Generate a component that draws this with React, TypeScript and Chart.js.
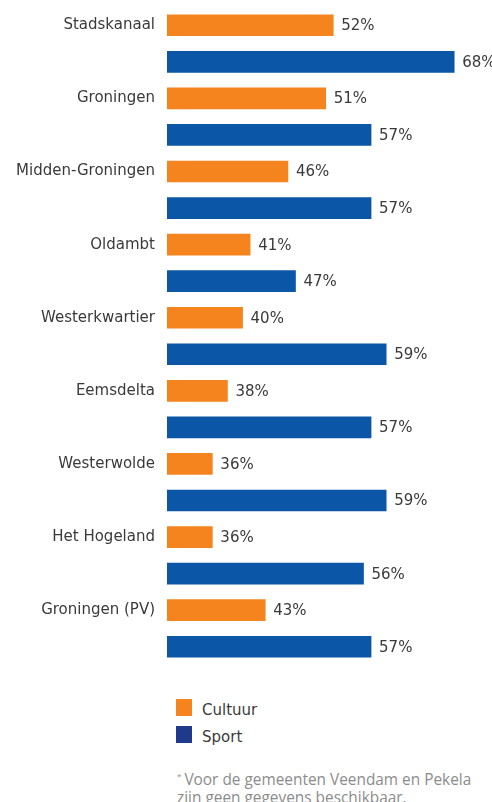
import React, { useEffect, useRef } from "react";
import { Chart, registerables } from "chart.js";

Chart.register(...registerables);

const municipalities = [
  "Stadskanaal",
  "Groningen",
  "Midden-Groningen",
  "Oldambt",
  "Westerkwartier",
  "Eemsdelta",
  "Westerwolde",
  "Het Hogeland",
  "Groningen (PV)",
];
const cultuur = [52, 51, 46, 41, 40, 38, 36, 36, 43];
const sport = [68, 57, 57, 47, 59, 57, 59, 56, 57];
const seriesNames = ["Cultuur", "Sport"];
const footnoteLines = [
  "Voor de gemeenten Veendam en Pekela",
  "zijn geen gegevens beschikbaar.",
];

const ORANGE = "#F5841F";
const BLUE = "#0B56A6";
const LEGEND_BLUE = "#1F3A8A";
const TEXT = "#3a3a3a";
const FONT = "'DejaVu Sans', sans-serif";

const valueLabels = {
  id: "valueLabels",
  afterDatasetsDraw(chart: any) {
    const ctx = chart.ctx;
    ctx.save();
    ctx.font = `15px ${FONT}`;
    ctx.fillStyle = TEXT;
    ctx.textAlign = "left";
    ctx.textBaseline = "middle";
    chart.data.datasets.forEach((ds: any, di: number) => {
      const meta = chart.getDatasetMeta(di);
      meta.data.forEach((el: any, i: number) => {
        const v = ds.data[i];
        if (v === null || v === undefined) return;
        ctx.fillText(`${v}%`, el.x + 8, el.y + 1);
      });
    });
    ctx.restore();
  },
};

export default function App() {
  const ref = useRef<HTMLCanvasElement | null>(null);

  useEffect(() => {
    if (!ref.current) return;
    const labels = municipalities.flatMap((m) => [m, ""]);
    const cultuurData = municipalities.flatMap((_, i) => [cultuur[i], null]);
    const sportData = municipalities.flatMap((_, i) => [null, sport[i]]);
    const chart = new Chart(ref.current, {
      type: "bar",
      data: {
        labels,
        datasets: [
          {
            label: seriesNames[0],
            data: cultuurData,
            backgroundColor: ORANGE,
            barThickness: 21,
            grouped: false,
          },
          {
            label: seriesNames[1],
            data: sportData,
            backgroundColor: BLUE,
            barThickness: 21,
            grouped: false,
          },
        ],
      } as any,
      options: {
        indexAxis: "y",
        animation: false,
        responsive: false,
        layout: { padding: { top: 7, bottom: 7, left: 0, right: 0 } },
        scales: {
          x: { type: "linear", min: 30, max: 73, display: false },
          y: {
            grid: { display: false, drawTicks: false },
            border: { display: false },
            ticks: {
              autoSkip: false,
              padding: 12,
              color: TEXT,
              font: { family: FONT, size: 15 },
            },
            afterFit: (s: any) => {
              s.width = 167;
              s.paddingTop = 0;
              s.paddingBottom = 0;
            },
          },
        },
        plugins: {
          legend: { display: false },
          tooltip: { enabled: false },
        },
      } as any,
      plugins: [valueLabels],
    });
    return () => chart.destroy();
  }, []);

  const sq = (top: number, color: string) => ({
    position: "absolute" as const,
    left: 176,
    top,
    width: 16,
    height: 17,
    background: color,
  });
  const lt = (top: number) => ({
    position: "absolute" as const,
    left: 202,
    top,
    font: `15px ${FONT}`,
    lineHeight: "17px",
    color: TEXT,
    whiteSpace: "nowrap" as const,
  });

  return (
    <div
      style={{
        position: "absolute",
        left: 0,
        top: 0,
        width: 492,
        height: 802,
        background: "#fff",
        overflow: "hidden",
      }}
    >
      <canvas ref={ref} width={492} height={672} style={{ display: "block" }} />
      <div style={sq(699, ORANGE)} />
      <div style={lt(702)}>{seriesNames[0]}</div>
      <div style={sq(726, LEGEND_BLUE)} />
      <div style={lt(729)}>{seriesNames[1]}</div>
      <div
        style={{
          position: "absolute",
          left: 177,
          top: 767,
          font: "15.4px 'Open Sans', sans-serif",
          lineHeight: "18px",
          color: "#8c8c8c",
          whiteSpace: "nowrap",
        }}
      >
        <div>
          <sup style={{ fontSize: 8, verticalAlign: "6px", marginRight: 3 }}>*</sup>
          {footnoteLines[0]}
        </div>
        <div>{footnoteLines[1]}</div>
      </div>
    </div>
  );
}
